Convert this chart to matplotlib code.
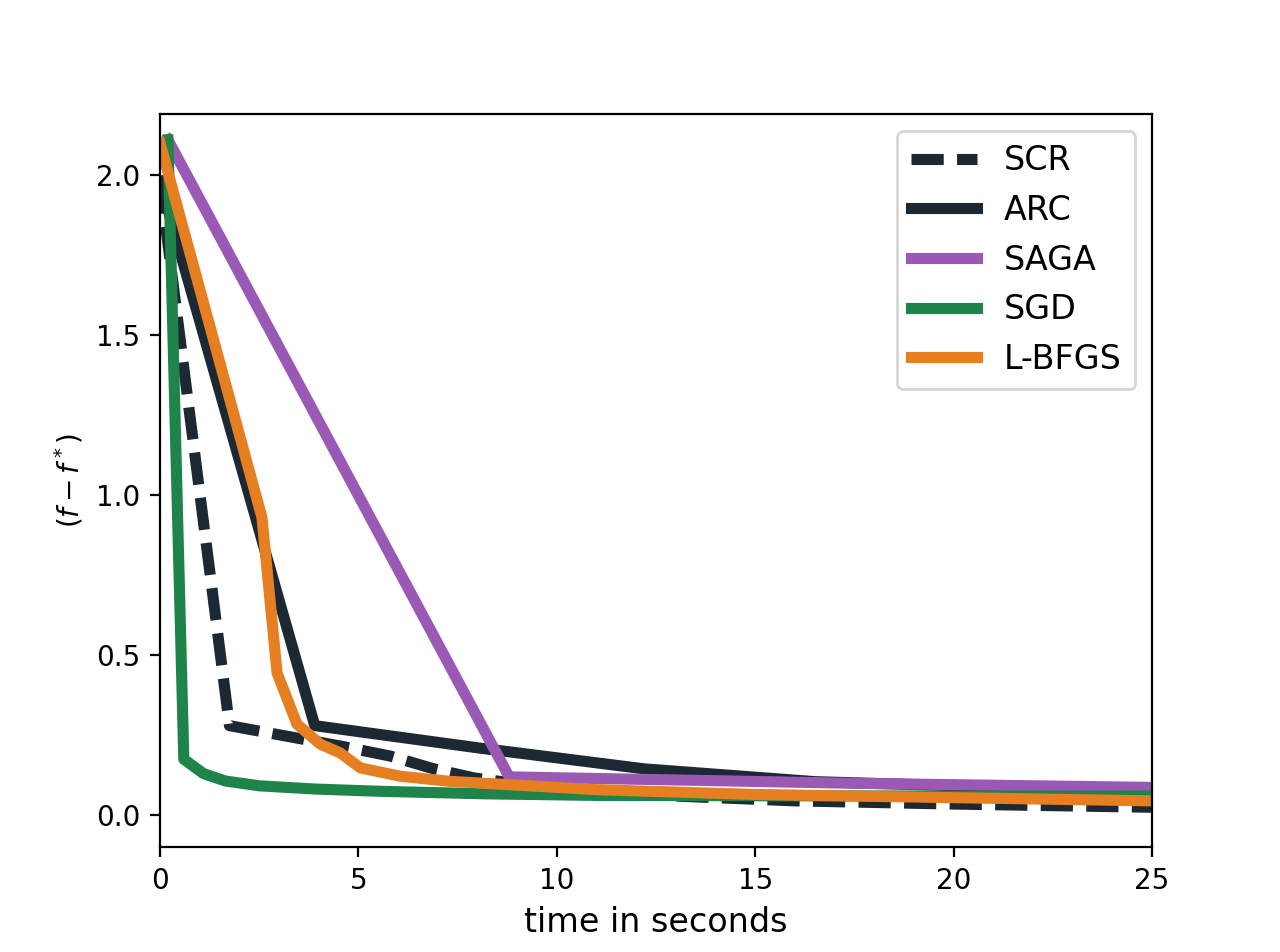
from matplotlib import pyplot as plt

# SCR
scr_t = [0, 1.75, 3.5, 4.6, 5.8, 6.9, 7.9, 9.5, 12, 16, 20, 25]
scr_f = [1.98, 0.28, 0.24, 0.215, 0.185, 0.145, 0.117, 0.09, 0.065, 0.045, 0.035, 0.025]

# ARC
arc_t = [0, 3.9, 8.05, 12.2, 16.5, 20.7, 25]
arc_f = [1.98, 0.28, 0.21, 0.145, 0.105, 0.09, 0.08]

# SAGA
saga_t = [0.2, 8.8, 17.4, 25]
saga_f = [2.11, 0.12, 0.1, 0.087]

# SGD
sgd_t = [0.2, 0.6, 1.1, 1.65, 2.5, 3.9, 5.5, 8.2, 11, 15, 20, 25]
sgd_f = [2.11, 0.175, 0.13, 0.107, 0.092, 0.082, 0.075, 0.067, 0.062, 0.061, 0.06, 0.06]

# L-BFGS
lbfgs_t = [0, 2.57, 2.95, 3.45, 4.04, 4.54, 5.05, 6.05, 7.3, 8.6, 11, 15, 20, 25]
lbfgs_f = [2.1, 0.93, 0.445, 0.285, 0.222, 0.195, 0.148, 0.122, 0.106, 0.097, 0.08, 0.065, 0.055, 0.045]

navy = '#1c2833'

plt.figure(figsize=(6.4, 4.76), dpi=200)
plt.plot(scr_t, scr_f, color=navy, lw=4, linestyle=(0, (2.9, 1.2)), label='SCR')
plt.plot(arc_t, arc_f, color=navy, lw=4, label='ARC')
plt.plot(saga_t, saga_f, color='#9b59b6', lw=4, label='SAGA')
plt.plot(sgd_t, sgd_f, color='#1e8449', lw=4, label='SGD')
plt.plot(lbfgs_t, lbfgs_f, color='#e67e22', lw=4, label='L-BFGS')

plt.xlim(0, 25)
plt.ylim(-0.1, 2.19)
plt.xlabel('time in seconds', fontsize=12)
plt.ylabel('$(f - f^*)$')
plt.legend(loc='upper right', fontsize=12)
plt.savefig('out.png', dpi=200)
